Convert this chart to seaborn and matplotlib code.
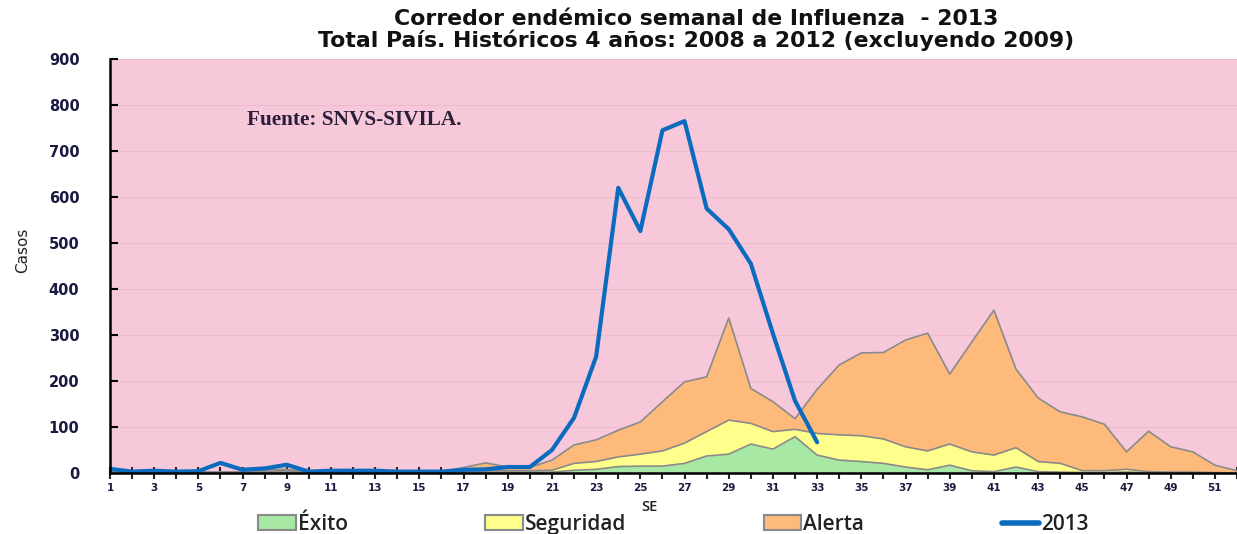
import matplotlib
matplotlib.use("Agg")
import matplotlib.pyplot as plt
import seaborn as sns
import pandas as pd
from matplotlib.patches import Patch
from matplotlib.lines import Line2D

# semanas epidemiologicas
weeks = list(range(1, 53))

# limite superior de cada zona (acumulado)
exito = [1, 1, 1, 1, 1, 1, 1, 2, 2, 1, 1, 1, 1, 1, 1, 1, 1, 2, 2, 2,
         2, 6, 8, 14, 15, 15, 21, 37, 41, 63, 52, 79, 39, 28, 25, 21, 13, 7, 17, 5,
         3, 13, 3, 2, 1, 1, 2, 1, 0, 0, 0, 0]
seguridad = [2, 2, 2, 2, 2, 2, 2, 4, 5, 2, 2, 2, 2, 2, 2, 2, 3, 5, 5, 5,
             6, 21, 25, 35, 41, 48, 65, 90, 115, 108, 90, 95, 86, 83, 81, 74, 57, 48, 63, 46,
             39, 55, 25, 21, 5, 5, 8, 3, 2, 2, 1, 0]
alerta = [5, 3, 3, 2, 2, 2, 2, 7, 8, 3, 3, 3, 3, 3, 3, 3, 12, 22, 13, 12,
          28, 61, 72, 93, 111, 155, 198, 209, 337, 184, 155, 118, 182, 235, 261, 262, 289, 304, 215, 285,
          354, 226, 163, 133, 122, 106, 46, 91, 57, 46, 17, 5]

# casos 2013
weeks_2013 = list(range(1, 34))
casos_2013 = [9, 3, 5, 3, 4, 22, 7, 10, 18, 3, 5, 5, 5, 3, 3, 3, 7, 8, 13, 13,
              50, 120, 253, 620, 526, 745, 765, 575, 530, 455, 303, 157, 67]

zonas = pd.DataFrame({"SE": weeks, "Exito": exito, "Seguridad": seguridad, "Alerta": alerta})
df_2013 = pd.DataFrame({"SE": weeks_2013, "Casos": casos_2013})

sns.set_theme(style="ticks")
plt.rcParams["font.family"] = ["Open Sans", "DejaVu Sans"]

pink = "#f7c8d9"
c_orange = "#fdba7a"
c_yellow = "#ffff8c"
c_green = "#a6e8a4"
c_blue = "#0b6cbf"
edge = "#8a8a8a"

fig = plt.figure(figsize=(12.37, 5.34), dpi=100)
ax = fig.add_axes([0.0889, 0.1142, 0.9111, 0.7753])
ax.set_facecolor(pink)

ax.fill_between(zonas["SE"], zonas["Seguridad"], zonas["Alerta"], color=c_orange, lw=0, zorder=2)
ax.fill_between(zonas["SE"], zonas["Exito"], zonas["Seguridad"], color=c_yellow, lw=0, zorder=2)
ax.fill_between(zonas["SE"], 0, zonas["Exito"], color=c_green, lw=0, zorder=2)
for col in ["Exito", "Seguridad", "Alerta"]:
    ax.plot(zonas["SE"], zonas[col], color=edge, lw=1.2, zorder=3)

sns.lineplot(data=df_2013, x="SE", y="Casos", ax=ax, color=c_blue, lw=3,
             zorder=4, legend=False)

ax.set_xlim(1, 51.72)
ax.set_ylim(0, 900)
ax.set_yticks(range(0, 1000, 100))
ax.set_xticks(range(1, 52, 2))
ax.set_xticks(range(1, 53), minor=True)
ax.grid(axis="y", color="#ecbccc", lw=0.8, zorder=1)
ax.set_axisbelow(True)

for s in ["top", "right"]:
    ax.spines[s].set_visible(False)
for s in ["left", "bottom"]:
    ax.spines[s].set_color("black")
    ax.spines[s].set_linewidth(1.8)
    ax.spines[s].set_zorder(5)

ax.tick_params(axis="y", direction="in", length=6, width=1.5, pad=22, colors="black",
               labelsize=10.5, labelcolor="#1a1a40")
ax.tick_params(axis="x", which="both", direction="inout", length=8, width=1.5,
               pad=3, labelsize=7.5, labelcolor="#1a1a40")
for lab in ax.get_yticklabels() + ax.get_xticklabels():
    lab.set_fontfamily(["DejaVu Sans"])
    lab.set_fontweight("bold")

ax.set_xlabel("SE", fontsize=10.5, fontweight="semibold", color="#222222")
ax.xaxis.set_label_coords(0.479, -0.065)
ax.set_ylabel("Casos", fontsize=11, color="#222222", family=["DejaVu Sans"])
ax.yaxis.set_label_coords(-0.071, 0.539)

ax.text(7.2, 768, "Fuente: SNVS-SIVILA.", family=["Liberation Serif"], fontweight="bold",
        fontsize=15.3, color="#2a1f3a", va="center")

fig.text(0.563, 0.965, "Corredor endémico semanal de Influenza  - 2013", ha="center", va="center",
         fontsize=15.8, fontweight="bold", color="#111111", family=["DejaVu Sans"])
fig.text(0.563, 0.924, "Total País. Históricos 4 años: 2008 a 2012 (excluyendo 2009)", ha="center",
         va="center", fontsize=15.8, fontweight="bold", color="#111111", family=["DejaVu Sans"])

handles = [Patch(facecolor=c_green, edgecolor=edge, lw=1.5),
           Patch(facecolor=c_yellow, edgecolor=edge, lw=1.5),
           Patch(facecolor=c_orange, edgecolor=edge, lw=1.5),
           Line2D([0], [0], color=c_blue, lw=4)]
leg = fig.legend(handles, ["Éxito", "Seguridad", "Alerta", "2013"], loc="center",
                 bbox_to_anchor=(0.5445, 0.018), ncol=4, frameon=False, fontsize=15,
                 handlelength=1.8, handleheight=0.7, handletextpad=0.1, columnspacing=6.6)
for t in leg.get_texts():
    t.set_fontweight("semibold")
    t.set_color("#222222")

fig.savefig("out.png", dpi=100)
